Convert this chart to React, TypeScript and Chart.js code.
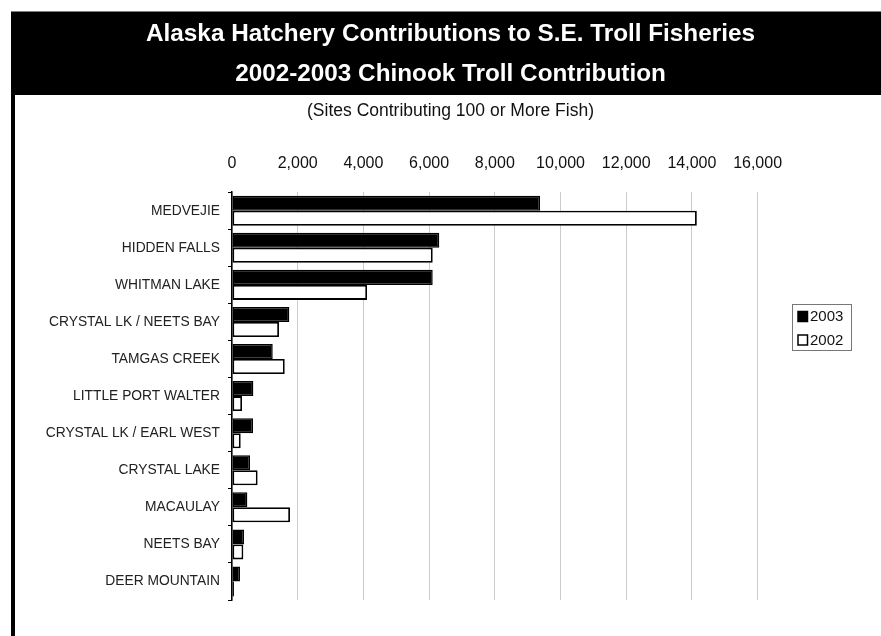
import React, { useEffect, useRef } from "react";
import { Chart, registerables } from "chart.js";

Chart.register(...registerables);

const TITLE_LINES = [
  "Alaska Hatchery Contributions to S.E. Troll Fisheries",
  "2002-2003 Chinook Troll Contribution",
];
const SUBTITLE = "(Sites Contributing 100 or More Fish)";

const categories = [
  "MEDVEJIE",
  "HIDDEN FALLS",
  "WHITMAN LAKE",
  "CRYSTAL LK / NEETS BAY",
  "TAMGAS CREEK",
  "LITTLE PORT WALTER",
  "CRYSTAL LK / EARL WEST",
  "CRYSTAL LAKE",
  "MACAULAY",
  "NEETS BAY",
  "DEER MOUNTAIN",
];

const values2003 = [9380, 6310, 6110, 1745, 1240, 650, 640, 548, 467, 365, 243];
const values2002 = [14150, 6110, 4110, 1430, 1605, 305, 265, 780, 1765, 345, 60];

const seriesLabels = ["2003", "2002"];
const xMin = 0;
const xMax = 16000;
const xStep = 2000;

const FONT = "'Liberation Sans', Arial, Helvetica, sans-serif";

const backgroundPlugin = {
  id: "bgBand",
  beforeDraw(chart: any) {
    const ctx = chart.ctx;
    ctx.save();
    ctx.fillStyle = "#ffffff";
    ctx.fillRect(0, 0, chart.width, chart.height);
    ctx.fillStyle = "#000000";
    ctx.fillRect(11, 11.5, chart.width - 11, 83.5);
    ctx.fillRect(11, 95, 4, chart.height - 95);
    ctx.restore();
  },
};

const legendPlugin = {
  id: "boxLegend",
  afterDraw(chart: any) {
    const ctx = chart.ctx;
    ctx.save();
    ctx.strokeStyle = "#777777";
    ctx.lineWidth = 1;
    ctx.strokeRect(792.5, 304.5, 59, 46);
    const ys = [316.5, 340];
    chart.data.datasets.forEach((ds: any, i: number) => {
      const y = ys[i];
      ctx.fillStyle = ds.backgroundColor;
      ctx.fillRect(798, y - 5, 9.5, 10);
      ctx.strokeStyle = "#000";
      ctx.lineWidth = 1.5;
      ctx.strokeRect(798, y - 5, 9.5, 10);
      ctx.fillStyle = "#111";
      ctx.font = `15px ${FONT}`;
      ctx.textBaseline = "middle";
      ctx.textAlign = "left";
      ctx.fillText(ds.label, 810, y + 0.5);
    });
    ctx.restore();
  },
};

export default function App() {
  const ref = useRef<HTMLCanvasElement | null>(null);

  useEffect(() => {
    if (!ref.current) return;
    const chart = new Chart(ref.current, {
      type: "bar",
      data: {
        labels: categories,
        datasets: [
          {
            label: seriesLabels[0],
            data: values2003,
            backgroundColor: "#000000",
            borderColor: "#000000",
            borderWidth: 1.5,
            borderSkipped: false,
            categoryPercentage: 0.81,
            barPercentage: 1.0,
          },
          {
            label: seriesLabels[1],
            data: values2002,
            backgroundColor: "#ffffff",
            borderColor: "#000000",
            borderWidth: 1.8,
            borderSkipped: false,
            categoryPercentage: 0.81,
            barPercentage: 1.0,
          },
        ],
      },
      options: {
        indexAxis: "y",
        responsive: false,
        animation: false,
        devicePixelRatio: 1,
        layout: { padding: { left: 20, right: 0, top: 0, bottom: 36 } },
        plugins: {
          legend: { display: false },
          tooltip: { enabled: false },
          title: {
            display: true,
            text: TITLE_LINES,
            color: "#ffffff",
            font: { family: FONT, size: 24.3, weight: "bold", lineHeight: 40 / 24.3 },
            padding: { top: 14, bottom: 0 },
          },
          subtitle: {
            display: true,
            text: SUBTITLE,
            color: "#111111",
            font: { family: FONT, size: 17.5, lineHeight: 1.2 },
            padding: { top: 6.5, bottom: 13.5 },
          },
        },
        scales: {
          x: {
            type: "linear",
            position: "top",
            min: xMin,
            max: xMax,
            ticks: {
              stepSize: xStep,
              color: "#111111",
              font: { family: FONT, size: 16 },
              padding: 19,
              maxRotation: 0,
              callback: (v: any) => Number(v).toLocaleString("en-US"),
            },
            grid: { color: "#cccccc", lineWidth: 1, drawTicks: false },
            border: { display: false },
          },
          y: {
            type: "category",
            position: "left",
            ticks: {
              color: "#222222",
              font: { family: FONT, size: 13.8 },
              padding: 8,
            },
            grid: {
              drawOnChartArea: false,
              drawTicks: true,
              tickLength: 4,
              color: "#000000",
              offset: true,
            },
            border: { display: true, color: "#000000", width: 1.5 },
            afterFit: (s: any) => {
              s.width = 212;
            },
          },
          yRight: {
            type: "category",
            position: "right",
            display: true,
            ticks: { display: false },
            grid: { display: false },
            border: { display: false },
            afterFit: (s: any) => {
              s.width = 123.4;
            },
          },
        },
      },
      plugins: [backgroundPlugin, legendPlugin],
    } as any);
    return () => chart.destroy();
  }, []);

  return (
    <div style={{ position: "fixed", left: 0, top: 0, width: 881, height: 636, background: "#fff" }}>
      <canvas ref={ref} width={881} height={636} style={{ display: "block" }} />
    </div>
  );
}
